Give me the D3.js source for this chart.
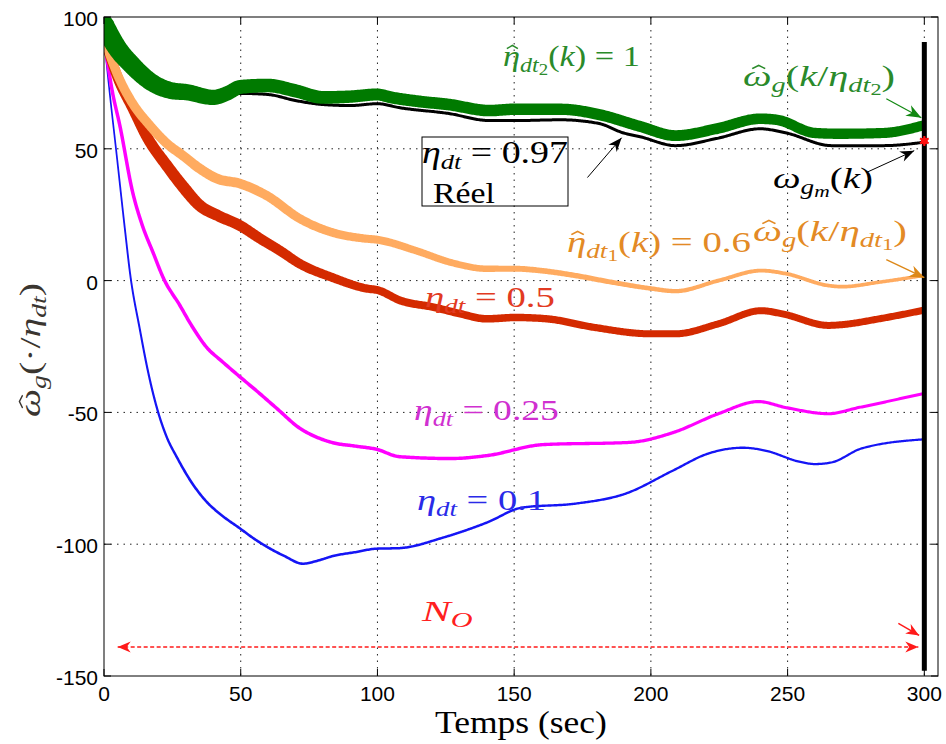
<!DOCTYPE html>
<html><head><meta charset="utf-8">
<script src="https://cdn.jsdelivr.net/npm/d3@7"></script>
<style>body{margin:0;background:#fff} svg{display:block}</style>
</head><body>
<svg id="c" width="946" height="744"></svg>
<script>
// ---------- data ----------
const xTicks = [0, 50, 100, 150, 200, 250, 300];
const yTicks = [-150, -100, -50, 0, 50, 100];
const xLabel = "Temps (sec)";

// estimated omega_g(k/eta_dt2) (green, eta = 1)
const tGreen = [0, 5, 10, 17, 25, 30, 40, 45, 50, 60, 70, 80, 90, 100, 105, 115, 126, 141, 150, 167, 181, 196, 209, 224, 240, 246, 260, 269, 285, 300];
const vGreen = [97, 88, 82, 75.5, 72, 71.5, 69.5, 71, 73.5, 74, 72, 69.5, 69.8, 70.6, 69.5, 68, 66.8, 64.5, 65, 65, 63, 58.5, 55, 57.6, 61.4, 61, 56, 55.7, 56, 59];
// measured omega_gm(k) (black, real eta = 0.97)
const tBlack = [0, 10, 20, 30, 40, 50, 60, 70, 80, 90, 100, 108, 126, 141, 150, 167, 181, 190, 196, 209, 224, 240, 249.5, 266, 285, 300];
const vBlack = [96, 81, 73, 70.5, 69, 71, 70.6, 68.3, 66.8, 66.4, 67.1, 65.6, 63.4, 60.7, 60.7, 61, 59.6, 56, 54.6, 51.2, 53.9, 57.6, 56, 51.2, 51.2, 52.5];
// estimated omega_g(k/eta_dt1) (orange, eta = 0.6)
const tOrange = [0, 1, 5, 10, 16.8, 23, 28.9, 35, 41.3, 49.7, 59.6, 71.6, 83.7, 95, 100, 114, 126.8, 140, 150.5, 159.7, 172.5, 185.6, 200, 209, 224.7, 240.4, 249.5, 265, 270, 283.5, 300];
const vOrange = [92, 89, 78, 68, 58.8, 52, 47.4, 42.5, 38.7, 36.8, 32.2, 23.5, 18.2, 16, 15.5, 11.4, 6.9, 4.5, 4.5, 3.8, 1.9, -0.6, -3, -4, 0, 3.8, 2.6, -1.9, -2.3, -0.6, 2];
// eta = 0.5 (red)
const tRed = [0, 1, 5, 10.6, 16, 23, 29, 35, 42, 49.7, 57, 64.3, 71.6, 83.7, 96, 100, 108.5, 120.6, 130, 140, 150.5, 162, 179, 200, 209, 224.7, 240.4, 248, 265, 270, 283.5, 300];
const vRed = [92, 89, 77, 65.2, 54, 43.6, 35.5, 28.5, 24.5, 20.9, 16, 11.4, 6.4, 1.1, -3, -3.6, -7.6, -10.1, -12.5, -14.5, -14, -14.5, -17.7, -20.2, -20.2, -16.4, -11.4, -12.6, -17, -16.7, -14.5, -11.2];
// eta = 0.25 (magenta)
const tMag = [0, 3, 5.8, 10.6, 14, 18, 21.7, 27.8, 32, 37.6, 43, 49.7, 56, 63.2, 71.6, 78, 83.7, 92, 99.7, 108, 126.8, 140, 160.8, 192, 208, 224.7, 239.3, 249.5, 265, 275.8, 300];
const vMag = [92, 72, 58.8, 33, 21, 10.5, 1, -9.5, -17, -25.4, -30.5, -36.5, -42, -48.5, -56, -59.5, -61.5, -62.8, -64, -66.8, -67.5, -66.4, -62.2, -61.4, -57.7, -50.5, -45.9, -48.2, -50.5, -48.2, -42.8];
// eta = 0.1 (blue)
const tBlue = [0, 2, 4.6, 7.7, 9.5, 13.2, 16, 19.4, 23, 26.7, 32, 37.6, 43, 49.7, 55, 59.6, 66, 72.7, 78, 83.7, 92, 99.7, 108, 124, 140, 153, 172.5, 190.8, 208, 221, 233.8, 241.9, 254.7, 260, 266, 277, 300];
const vBlue = [92, 72, 48, 19, 3, -19, -34, -48.5, -59.5, -67.1, -76.5, -84, -89, -94, -98, -101, -104.5, -107.4, -106.3, -104.5, -103, -101.7, -101.5, -97.5, -91.8, -86.1, -84.6, -80.8, -72.1, -65.6, -63.4, -64.5, -68.8, -69.6, -69, -63.7, -60.2];

const horizonT = 300;          // N_O horizon
const horizonRange = [90.5, -148];
const endMarker = [300, 53];

// ---------- layout ----------
const svg = d3.select("#c");
const x = d3.scaleLinear().domain([0, 305]).range([104, 938]);
const y = d3.scaleLinear().domain([-150, 100]).range([676, 17]);
const X0 = x(0), X1 = x(305), Y0 = y(-150), Y1 = y(100);

const defs = svg.append("defs");
defs.append("clipPath").attr("id", "plotclip").append("rect")
  .attr("x", X0).attr("y", Y1).attr("width", X1 - X0).attr("height", Y0 - Y1);
function marker(id, color, len, wid) {
  defs.append("marker").attr("id", id).attr("markerUnits", "userSpaceOnUse")
    .attr("viewBox", `${-len - 1} ${-wid - 1} ${len + 2} ${2 * wid + 2}`)
    .attr("refX", 0).attr("refY", 0)
    .attr("markerWidth", len + 2).attr("markerHeight", 2 * wid + 2)
    .attr("orient", "auto-start-reverse")
    .append("path").attr("d", `M0,0 L${-len},${-wid} L${-len * 0.7},0 L${-len},${wid} Z`).attr("fill", color);
}
marker("ag", "#118811", 15, 6);
marker("ak", "#000", 14, 5.5);
marker("ao", "#DD8818", 15, 6);
marker("ar", "#FF1A1A", 13, 5.5);

// grid
const grid = svg.append("g");
xTicks.filter(t => t > 0).forEach(t => grid.append("line").attr("x1", x(t)).attr("x2", x(t)).attr("y1", Y1).attr("y2", Y0)
  .attr("stroke", "#222").attr("stroke-width", 1).attr("stroke-dasharray", "1.5,5"));
yTicks.filter(v => v > -150 && v < 100).forEach(v => grid.append("line").attr("x1", X0).attr("x2", X1).attr("y1", y(v)).attr("y2", y(v))
  .attr("stroke", "#222").attr("stroke-width", 1).attr("stroke-dasharray", "1.5,5"));

// variable width band drawing
const curves = svg.append("g").attr("clip-path", "url(#plotclip)");
function band(ts, vs, color, widthStops) {
  const pts = ts.map((t, i) => [t, vs[i]]);
  const d = d3.line().x(p => x(p[0])).y(p => y(p[1])).curve(d3.curveMonotoneX)(pts);
  const tmp = svg.append("path").attr("d", d).attr("fill", "none");
  const node = tmp.node(), L = node.getTotalLength();
  const wScale = d3.scaleLinear().domain(widthStops.map(s => s[0])).range(widthStops.map(s => s[1])).clamp(true);
  const s = [];
  for (let l = 0; l < L; l += 1.2) { const p = node.getPointAtLength(l); s.push([p.x, p.y]); }
  const pe = node.getPointAtLength(L); s.push([pe.x, pe.y]);
  tmp.remove();
  const left = [], right = [];
  for (let i = 0; i < s.length; i++) {
    const a = s[Math.max(0, i - 2)], b = s[Math.min(s.length - 1, i + 2)];
    let tx = b[0] - a[0], ty = b[1] - a[1]; const n = Math.hypot(tx, ty) || 1; tx /= n; ty /= n;
    const hw = wScale(x.invert(s[i][0])) / 2;
    left.push([s[i][0] - ty * hw, s[i][1] + tx * hw]);
    right.push([s[i][0] + ty * hw, s[i][1] - tx * hw]);
  }
  const poly = left.concat(right.reverse());
  curves.append("path").attr("d", "M" + poly.map(p => p[0].toFixed(2) + "," + p[1].toFixed(2)).join("L") + "Z").attr("fill", color);
  // round start cap (clipped at the axis)
  curves.append("circle").attr("cx", s[0][0]).attr("cy", s[0][1])
    .attr("r", wScale(x.invert(s[0][0])) / 2).attr("fill", color);
}

band(tBlue, vBlue, "#1515F5", [[0, 1.6], [30, 2.6], [60, 2.6], [300, 2.2]]);
band(tMag, vMag, "#FF00FF", [[0, 3.5], [100, 3.5], [300, 3]]);
band(tRed, vRed, "#D42A00", [[0, 10], [30, 12], [100, 8], [200, 7], [300, 7]]);
band(tOrange, vOrange, "#FFAB60", [[0, 9], [40, 10], [100, 8], [150, 6], [220, 4], [300, 3.5]]);
band(tBlack, vBlack, "#000000", [[0, 3], [300, 3]]);
band(tGreen, vGreen, "#007A00", [[0, 20], [15, 18], [50, 14], [100, 12], [300, 10]]);

// frame + ticks
const ax = svg.append("g");
ax.append("rect").attr("x", X0).attr("y", Y1).attr("width", X1 - X0).attr("height", Y0 - Y1)
  .attr("fill", "none").attr("stroke", "#000").attr("stroke-width", 1);
xTicks.forEach(t => {
  ax.append("line").attr("x1", x(t)).attr("x2", x(t)).attr("y1", Y0).attr("y2", Y0 - 7).attr("stroke", "#000");
  ax.append("line").attr("x1", x(t)).attr("x2", x(t)).attr("y1", Y1).attr("y2", Y1 + 7).attr("stroke", "#000");
  ax.append("text").attr("x", x(t)).attr("y", Y0 + 25).attr("text-anchor", "middle")
    .attr("font-family", "'Liberation Sans', Arial, sans-serif").attr("font-size", 21).text(t);
});
yTicks.forEach(v => {
  ax.append("line").attr("x1", X0).attr("x2", X0 + 7).attr("y1", y(v)).attr("y2", y(v)).attr("stroke", "#000");
  ax.append("line").attr("x1", X1).attr("x2", X1 - 7).attr("y1", y(v)).attr("y2", y(v)).attr("stroke", "#000");
  ax.append("text").attr("x", X0 - 6).attr("y", y(v) + 9).attr("text-anchor", "end")
    .attr("font-family", "'Liberation Sans', Arial, sans-serif").attr("font-size", 21).text(v);
});

// horizon bar
svg.append("line").attr("x1", x(horizonT)).attr("x2", x(horizonT))
  .attr("y1", y(horizonRange[0])).attr("y2", y(horizonRange[1])).attr("stroke", "#000").attr("stroke-width", 5);
// end marker
svg.append("circle").attr("cx", x(endMarker[0])).attr("cy", y(endMarker[1])).attr("r", 3.5).attr("fill", "#FF1010");
svg.append("path").attr("transform", `translate(${x(endMarker[0])},${y(endMarker[1])})`)
  .attr("d", d3.symbol(d3.symbolAsterisk, 70)()).attr("stroke", "#FF1010").attr("stroke-width", 2).attr("fill", "none");

// arrows (data coordinates)
function arrow(a, b, id, color, w, dash, both) {
  const l = svg.append("line").attr("x1", x(a[0])).attr("y1", y(a[1])).attr("x2", x(b[0])).attr("y2", y(b[1]))
    .attr("stroke", color).attr("stroke-width", w).attr("marker-end", `url(#${id})`);
  if (dash) l.attr("stroke-dasharray", dash);
  if (both) l.attr("marker-start", `url(#${id})`);
}
arrow([286.1, 69.0], [298.9, 61.8], "ag", "#118811", 1.2);
arrow([176.8, 39.1], [189.3, 54.2], "ak", "#000", 1);
arrow([278.8, 41.0], [296.3, 49.3], "ak", "#000", 1);
arrow([286.1, 8.0], [300.0, 1.1], "ao", "#DD8818", 1.4);
arrow([5.0, -139.0], [297.8, -139.0], "ar", "#FF1A1A", 1.5, "4,2.5", true);
arrow([290.5, -130.0], [298.1, -134.6], "ar", "#FF1A1A", 1.5);

// text box
svg.append("rect").attr("x", 422).attr("y", 137).attr("width", 146).attr("height", 69)
  .attr("fill", "none").attr("stroke", "#000").attr("stroke-width", 1);

// math labels (hats drawn as small carets over the glyph)
const SERIF = "'Liberation Serif', 'DejaVu Serif', serif";
function mathLabel(parts, x0, yb, size, color, targetW, parent) {
  const g = (parent || svg).append("g");
  const t = g.append("text").attr("x", x0).attr("y", yb)
    .attr("font-family", SERIF).attr("font-size", size).attr("fill", color);
  let cur = 0, idx = 0;
  const hats = [];
  parts.forEach(p => {
    const b = p.b || 0;
    const ts = t.append("tspan").text(p.s);
    if (p.i) ts.attr("font-style", "italic");
    if (p.f) ts.attr("font-size", size * p.f);
    if (b !== cur) { ts.attr("dy", (b - cur) * size); cur = b; }
    if (p.hat) hats.push({ idx: idx, fs: size * (p.f || 1), b: b });
    idx += p.s.length;
  });
  hats.forEach(h => {
    const e = t.node().getExtentOfChar(h.idx);
    const base = yb + h.b * size;
    const cx = e.x + e.width * 0.55, cy = base - h.fs * 0.6;
    const hw = h.fs * 0.16, hh = h.fs * 0.11;
    g.append("path").attr("d", `M${cx - hw},${cy} L${cx},${cy - hh} L${cx + hw},${cy}`)
      .attr("fill", "none").attr("stroke", color).attr("stroke-width", Math.max(1, h.fs * 0.045));
  });
  if (targetW) {
    const w = t.node().getBBox().width;
    g.attr("transform", `translate(${x0},0) scale(${targetW / w},1) translate(${-x0},0)`);
  }
  return g;
}
const eta = "\u03B7", om = "\u03C9";

mathLabel([{ s: eta, i: 1, hat: 1 }, { s: "dt", i: 1, f: .7, b: .2 }, { s: "2", f: .55, b: .32 }, { s: "(", b: 0 }, { s: "k", i: 1 }, { s: ") = 1" }],
  503, 66, 29, "#2A8A2A", 137);
mathLabel([{ s: om, i: 1, hat: 1 }, { s: "g", i: 1, f: .7, b: .2 }, { s: "(", b: 0 }, { s: "k", i: 1 }, { s: "/" }, { s: eta, i: 1 }, { s: "dt", i: 1, f: .7, b: .2 }, { s: "2", f: .55, b: .32 }, { s: ")", b: 0 }],
  743, 86, 29, "#2A8A2A", 152);
mathLabel([{ s: om, i: 1 }, { s: "g", i: 1, f: .7, b: .2 }, { s: "m", i: 1, f: .55, b: .32 }, { s: "(", b: 0 }, { s: "k", i: 1 }, { s: ")" }],
  773, 188, 29, "#000", 100);
mathLabel([{ s: eta, i: 1 }, { s: "dt", i: 1, f: .7, b: .2 }, { s: " = 0.97", b: 0 }], 422, 163, 31, "#000", 146);
mathLabel([{ s: "Réel" }], 433, 203, 30, "#000", 62);
mathLabel([{ s: eta, i: 1, hat: 1 }, { s: "dt", i: 1, f: .7, b: .2 }, { s: "1", f: .55, b: .32 }, { s: "(", b: 0 }, { s: "k", i: 1 }, { s: ") = 0.6" }],
  567, 252, 29, "#E38A25", 184);
mathLabel([{ s: om, i: 1, hat: 1 }, { s: "g", i: 1, f: .7, b: .2 }, { s: "(", b: 0 }, { s: "k", i: 1 }, { s: "/" }, { s: eta, i: 1 }, { s: "dt", i: 1, f: .7, b: .2 }, { s: "1", f: .55, b: .32 }, { s: ")", b: 0 }],
  753, 241, 29, "#E38A25", 154);
mathLabel([{ s: eta, i: 1 }, { s: "dt", i: 1, f: .7, b: .2 }, { s: " = 0.5", b: 0 }], 425, 307, 30, "#E23A22", 130);
mathLabel([{ s: eta, i: 1 }, { s: "dt", i: 1, f: .7, b: .2 }, { s: " = 0.25", b: 0 }], 414, 420, 30, "#D030D0", 145);
mathLabel([{ s: eta, i: 1 }, { s: "dt", i: 1, f: .7, b: .2 }, { s: " = 0.1", b: 0 }], 417, 510, 30, "#2A2AE8", 129);
mathLabel([{ s: "N", i: 1 }, { s: "O", i: 1, f: .7, b: .2 }], 422, 621, 30, "#FF2020", 52);

// axis labels
mathLabel([{ s: xLabel }], 435, 733, 31, "#000", 172);
const yl = svg.append("g").attr("transform", "translate(40,417) rotate(-90)");
mathLabel([{ s: om, i: 1, hat: 1 }, { s: "g", i: 1, f: .7, b: .2 }, { s: "(\u00B7/", b: 0 }, { s: eta, i: 1 }, { s: "dt", i: 1, f: .7, b: .2 }, { s: ")", b: 0 }],
  0, 0, 29, "#3a3530", 134, yl);
</script>
</body></html>
